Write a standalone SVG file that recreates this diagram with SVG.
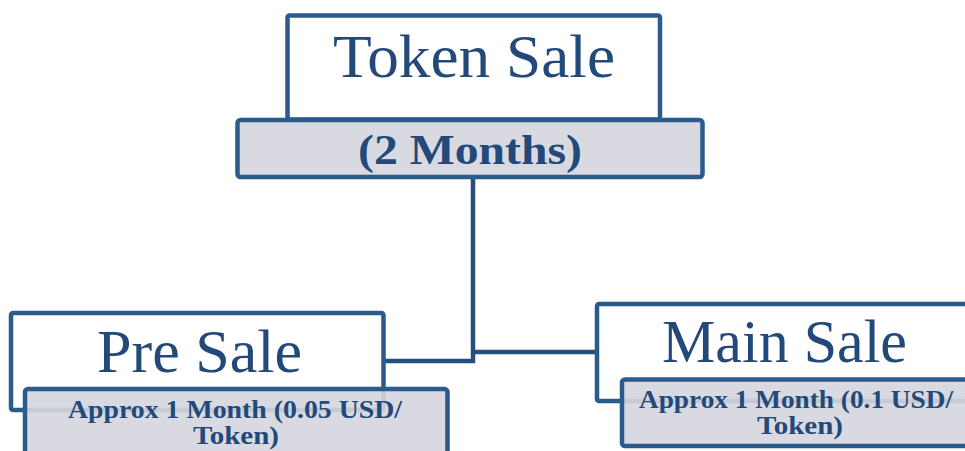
<svg xmlns="http://www.w3.org/2000/svg" width="965" height="451" viewBox="0 0 965 451">
<style>
.box{fill:#ffffff;stroke:#2a5b8c;stroke-width:4.5}
.sub{fill:#d5d6de;fill-opacity:0.9;stroke:#2a5b8c;stroke-width:4.5}
.conn{fill:none;stroke:#24507d;stroke-width:4.5}
.t{font-family:"Liberation Serif","Times New Roman",serif;fill:#22497a;text-anchor:middle}
.b{font-family:"Liberation Serif","Times New Roman",serif;fill:#22497a;text-anchor:middle;font-weight:bold}
</style>
<rect width="965" height="451" fill="#ffffff"/>
<g id="connectors">
<path class="conn" d="M473,177 V361 H383"/>
<path class="conn" d="M473,352 H597"/>
</g>
<g id="token-sale">
<rect class="box" x="287.5" y="15.5" width="372.5" height="104" rx="2"/>
<rect class="sub" x="237.5" y="120" width="465" height="57" rx="3"/>
<text class="t" x="474" y="77" font-size="62" textLength="282" lengthAdjust="spacingAndGlyphs">Token Sale</text>
<text class="b" x="470" y="164" font-size="43" textLength="224" lengthAdjust="spacingAndGlyphs">(2 Months)</text>
</g>
<g id="pre-sale">
<rect class="box" x="11" y="313" width="372.5" height="97" rx="2"/>
<rect class="sub" x="25" y="389" width="422.5" height="80" rx="3"/>
<text class="t" x="199.5" y="372" font-size="62" textLength="205" lengthAdjust="spacingAndGlyphs">Pre Sale</text>
<text class="b" x="235" y="418" font-size="26" textLength="334" lengthAdjust="spacingAndGlyphs">Approx 1 Month (0.05 USD/</text>
<text class="b" x="236" y="444" font-size="26" textLength="86" lengthAdjust="spacingAndGlyphs">Token)</text>
</g>
<g id="main-sale">
<rect class="box" x="597" y="304" width="400" height="97" rx="2"/>
<rect class="sub" x="622" y="379.5" width="380" height="66.5" rx="3"/>
<text class="t" x="784.5" y="362" font-size="62" textLength="245" lengthAdjust="spacingAndGlyphs">Main Sale</text>
<text class="b" x="796" y="408" font-size="26" textLength="314" lengthAdjust="spacingAndGlyphs">Approx 1 Month (0.1 USD/</text>
<text class="b" x="800" y="434" font-size="26" textLength="86" lengthAdjust="spacingAndGlyphs">Token)</text>
</g>
</svg>
